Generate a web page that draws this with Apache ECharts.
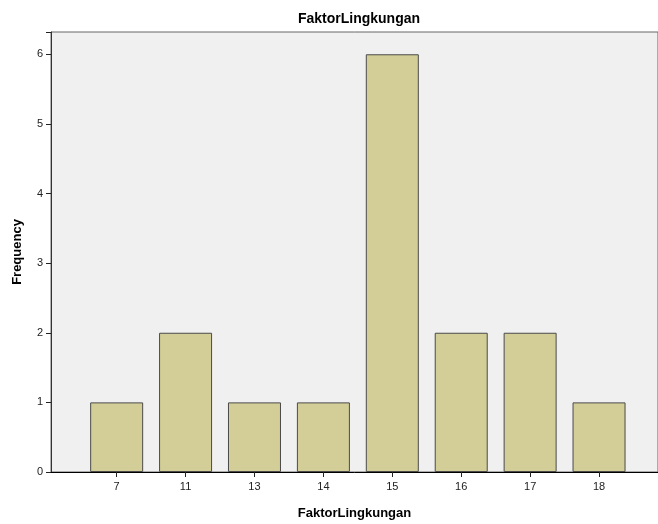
<!DOCTYPE html>
<html>
<head>
<meta charset="utf-8">
<script src="https://cdn.jsdelivr.net/npm/echarts@6/dist/echarts.min.js"></script>
<style>
  html, body { margin: 0; padding: 0; background: #fff; }
</style>
</head>
<body>
<div id="chartFreq" style="width:658px;height:524px"></div>
<script>
  // data
  const categories = ['7', '11', '13', '14', '15', '16', '17', '18'];
  const frequency = [1, 2, 1, 1, 6, 2, 2, 1];
  const yTicks = [0, 1, 2, 3, 4, 5, 6];

  const font = 'Arial, "Liberation Sans", sans-serif';
  const yMax = 6.32;
  const bounds = { left: 0, top: 0, right: 0, bottom: 0 };

  let chartFreq = echarts.init(document.getElementById('chartFreq'));
  let option = {
    animation: false,
    title: {
      text: 'FaktorLingkungan',
      left: 354,
      textAlign: 'center',
      top: 7,
      textStyle: { fontFamily: font, fontSize: 14, fontWeight: 'bold', color: '#000' }
    },
    grid: [
      // background frame + y axis labels
      { left: 51, top: 32, width: 607, height: 440, show: true,
        outerBounds: bounds, outerBoundsContain: 'axisLabel',
        backgroundColor: '#f0f0f0', borderColor: '#666', borderWidth: 1 },
      // bars
      { left: 82.2, top: 32, width: 551.3, height: 440,
        outerBounds: bounds, outerBoundsContain: 'axisLabel' }
    ],
    xAxis: [
      {
        gridIndex: 0, type: 'value', min: 0, max: 1,
        name: 'FaktorLingkungan', nameLocation: 'middle', nameGap: 35,
        nameTextStyle: { fontFamily: font, fontSize: 13, fontWeight: 'bold', color: '#000' },
        axisLine: { show: true, lineStyle: { color: '#000', width: 1 } },
        axisTick: { show: false }, axisLabel: { show: false }, splitLine: { show: false }
      },
      {
        gridIndex: 1, type: 'category', data: categories, position: 'bottom',
        axisLine: { show: false },
        axisTick: { show: false },
        axisLabel: { fontFamily: font, fontSize: 11, color: '#222', margin: 9 }
      },
      // tick marks only
      {
        gridIndex: 1, type: 'category', data: categories, position: 'bottom', offset: 0,
        axisLine: { show: false },
        axisTick: { show: true, alignWithLabel: true, length: 5, lineStyle: { color: '#222', width: 1 } },
        axisLabel: { show: false }
      }
    ],
    yAxis: [
      {
        gridIndex: 0, type: 'value', min: 0, max: yMax,
        name: 'Frequency', nameLocation: 'middle', nameGap: 27,
        nameTextStyle: { fontFamily: font, fontSize: 13, fontWeight: 'bold', color: '#000' },
        axisLine: { show: true, lineStyle: { color: '#333', width: 1 } },
        axisTick: { show: false },
        axisLabel: { fontFamily: font, fontSize: 11, color: '#222', margin: 8, customValues: yTicks },
        splitLine: { show: false }
      },
      // tick marks only, moved left onto the frame edge
      {
        gridIndex: 1, type: 'value', min: 0, max: yMax, interval: 1, position: 'left', offset: 31.2,
        axisLine: { show: false },
        axisTick: { show: true, length: 5, lineStyle: { color: '#222', width: 1 } },
        axisLabel: { show: false },
        splitLine: { show: false }
      }
    ],
    series: [
      {
        type: 'bar',
        xAxisIndex: 1, yAxisIndex: 1,
        data: frequency,
        barWidth: 53,
        itemStyle: { color: '#d3ce97', borderColor: '#4a4a4a', borderWidth: 1 }
      }
    ]
  };
  chartFreq.setOption(option);
</script>
</body>
</html>
